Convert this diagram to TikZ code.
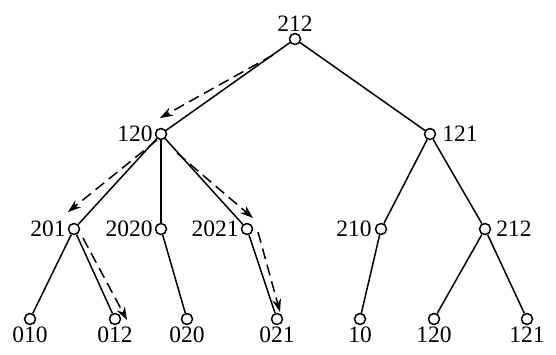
\documentclass[tikz,border=0pt]{standalone}
\usepackage{fontspec}
\setmainfont{Liberation Serif}
\usetikzlibrary{arrows.meta,calc}

\begin{document}
\begin{tikzpicture}[
    x=1pt, y=-1pt,
    font=\fontsize{23.5}{25}\selectfont,
    vtx/.style={circle, draw, fill=white, line width=1.5pt, minimum size=11pt, inner sep=0pt},
    edge/.style={line width=1.5pt},
    walk/.style={line width=1.5pt, dash pattern=on 11pt off 6pt, -{Stealth[length=13pt,width=9pt]}},
    lbl/.style={inner sep=1pt}
]
    \useasboundingbox (0,0) rectangle (556,354);

    % Wurzel und erste Ebene
    \node[vtx, label={[lbl]above:212}] (r) at (295,39) {};
    \node[vtx, label={[lbl, label distance=1pt]left:120}] (a) at (161,134) {};
    \node[vtx, label={[lbl, label distance=5pt]right:121}] (b) at (430,134) {};

    % zweite Ebene
    \node[vtx, label={[lbl, label distance=1pt]left:201}] (a1) at (74,229) {};
    \node[vtx, label={[lbl, label distance=1pt]left:2020}] (a2) at (161,229) {};
    \node[vtx, label={[lbl, label distance=1pt]left:2021}] (a3) at (247,229) {};
    \node[vtx, label={[lbl, label distance=2pt]left:210}] (b1) at (381,229) {};
    \node[vtx, label={[lbl, label distance=4pt]right:212}] (b2) at (485,229) {};

    % Blaetter
    \node[vtx, label={[lbl]below:010}] (a11) at (30,319) {};
    \node[vtx, label={[lbl]below:012}] (a12) at (115,319) {};
    \node[vtx, label={[lbl]below:020}] (a21) at (187,319) {};
    \node[vtx, label={[lbl]below:021}] (a31) at (277,319) {};
    \node[vtx, label={[lbl]below:10}] (b11) at (360,319) {};
    \node[vtx, label={[lbl]below:120}] (b21) at (434,319) {};
    \node[vtx, label={[lbl]below:121}] (b22) at (527,319) {};

    % Kanten
    \foreach \u/\v in {r/a, r/b, a/a1, a/a2, a/a3, a1/a11, a1/a12, a2/a21, a3/a31,
                       b/b1, b/b2, b1/b11, b2/b21, b2/b22}
        \draw[edge] (\u) -- (\v);

    % Suchweg (gestrichelt)
    \draw[walk] ($(r)+(-22,16)$) -- ($(a)+(-1,-16)$);
    \draw[walk] ($(a)+(-4,6)$) -- ($(a1)+(-6,-17)$);
    \draw[walk] ($(a)+(16,19)$) -- ($(a3)+(6,-11)$);
    \draw[walk] ($(a1)+(9,9)$) -- ($(a12)+(12,1)$);
    \draw[walk] ($(a3)+(11,3)$) -- ($(a31)+(3,-7)$);

\end{tikzpicture}
\end{document}
